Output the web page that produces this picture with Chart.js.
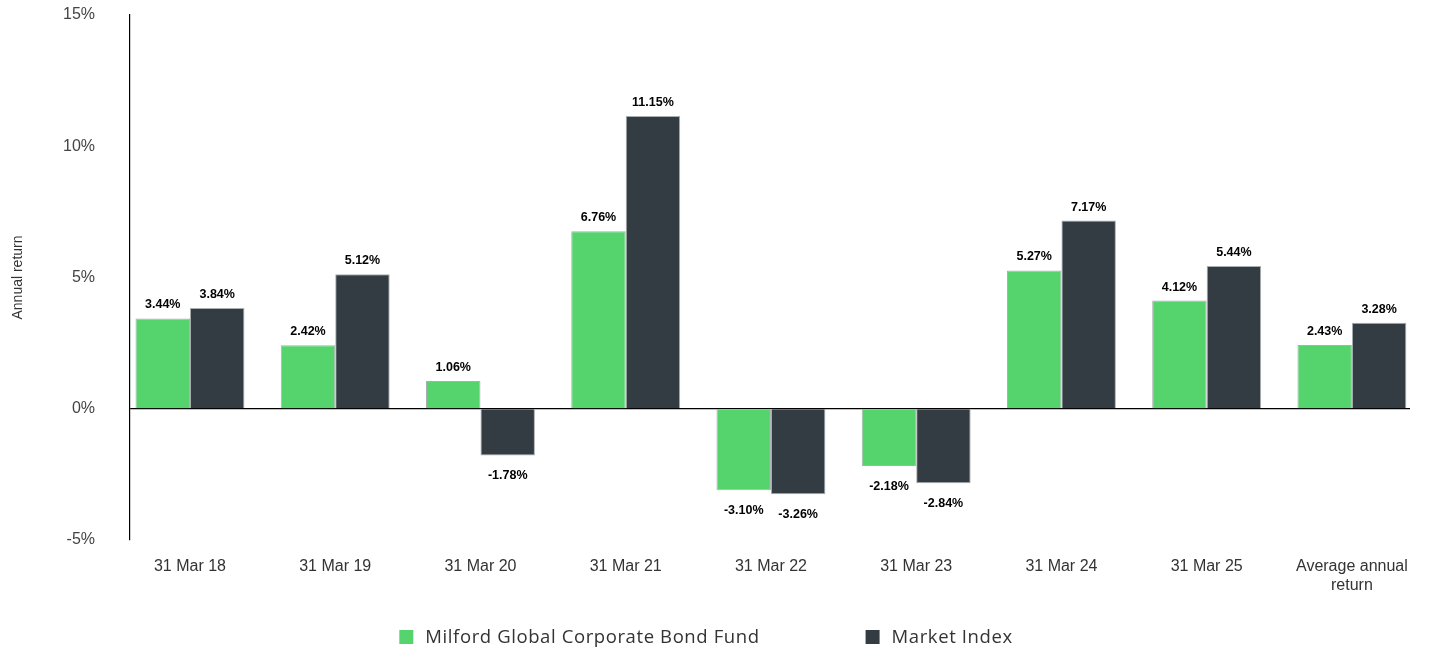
<!DOCTYPE html>
<html>
<head>
<meta charset="utf-8">
<script src="https://cdn.jsdelivr.net/npm/chart.js@4.4.1/dist/chart.umd.min.js"></script>
<style>
html,body{margin:0;padding:0;background:#fff;}
#wrap{width:1429px;height:648px;position:relative;}
</style>
</head>
<body>
<div id="wrap"><canvas id="c" width="1429" height="648"></canvas></div>
<script>
const categories = ['31 Mar 18','31 Mar 19','31 Mar 20','31 Mar 21','31 Mar 22','31 Mar 23','31 Mar 24','31 Mar 25',['Average annual','return']];
const fundValues = [3.44, 2.42, 1.06, 6.76, -3.10, -2.18, 5.27, 4.12, 2.43];
const indexValues = [3.84, 5.12, -1.78, 11.15, -3.26, -2.84, 7.17, 5.44, 3.28];
const seriesNames = ['Milford Global Corporate Bond Fund', 'Market Index'];
const yTicks = [-5, 0, 5, 10, 15];
const yTitle = 'Annual return';

const GREEN = '#55d46e';
const DARK = '#323c42';

const valueLabels = {
  id: 'valueLabels',
  afterDatasetsDraw(chart) {
    const ctx = chart.ctx;
    ctx.save();
    ctx.font = 'bold 12.5px "Liberation Sans", Arial, sans-serif';
    ctx.fillStyle = '#000';
    ctx.textAlign = 'center';
    ctx.textBaseline = 'alphabetic';
    chart.data.datasets.forEach((ds, di) => {
      const meta = chart.getDatasetMeta(di);
      meta.data.forEach((bar, i) => {
        const v = ds.data[i];
        const txt = v.toFixed(2) + '%';
        if (v >= 0) {
          ctx.fillText(txt, bar.x, bar.y - 10);
        } else {
          ctx.fillText(txt, bar.x, bar.y + 24);
        }
      });
    });
    ctx.restore();
  }
};

const customLegend = {
  id: 'customLegend',
  afterDraw(chart) {
    const ctx = chart.ctx;
    ctx.save();
    ctx.font = '18.5px "Open Sans", sans-serif';
    if ('letterSpacing' in ctx) ctx.letterSpacing = '0.6px';
    ctx.textBaseline = 'middle';
    const box = 14, gap = 12, spacing = 106;
    const items = chart.data.datasets.map(ds => ({label: ds.label, color: ds.backgroundColor, w: ctx.measureText(ds.label).width}));
    let total = 0;
    items.forEach((it, i) => { total += box + gap + it.w + (i < items.length - 1 ? spacing : 0); });
    let x = 706 - total / 2;
    const y = 637;
    items.forEach(it => {
      ctx.fillStyle = it.color;
      ctx.fillRect(x, y - box / 2, box, box);
      ctx.fillStyle = '#333';
      ctx.textAlign = 'left';
      ctx.fillText(it.label, x + box + gap, y + 1);
      x += box + gap + it.w + spacing;
    });
    ctx.restore();
  }
};

new Chart(document.getElementById('c'), {
  type: 'bar',
  data: {
    labels: categories,
    datasets: [
      {label: seriesNames[0], data: fundValues, backgroundColor: GREEN, borderColor: 'rgba(160,165,168,0.9)', borderWidth: 1, categoryPercentage: 0.75, barPercentage: 1.0},
      {label: seriesNames[1], data: indexValues, backgroundColor: DARK, borderColor: 'rgba(160,165,168,0.9)', borderWidth: 1, categoryPercentage: 0.75, barPercentage: 1.0}
    ]
  },
  options: {
    responsive: false,
    animation: false,
    devicePixelRatio: 1,
    layout: {padding: {top: 15, right: 19, bottom: 38, left: 0}},
    plugins: {
      legend: {display: false},
      tooltip: {enabled: false}
    },
    scales: {
      x: {
        grid: {display: false, drawTicks: false},
        border: {display: false},
        ticks: {
          font: {family: '"Liberation Sans", Arial, sans-serif', size: 16},
          color: '#333',
          padding: 17,
          maxRotation: 0,
          autoSkip: false
        },
        afterBuildTicks(scale) {
          scale._startValue = -0.413;
          scale._valueRange = 8.813;
        },
        afterFit(scale) { scale.height = 70; scale.paddingLeft = 0; scale.paddingRight = 0; }
      },
      y: {
        min: -5,
        max: 15,
        afterBuildTicks(scale) { scale.ticks = yTicks.map(v => ({value: v})); },
        grid: {
          drawTicks: false,
          color: ctx => (ctx.tick && ctx.tick.value === 0) ? '#000' : 'rgba(0,0,0,0)',
          lineWidth: 1.2
        },
        border: {display: true, color: '#000', width: 1.2},
        ticks: {
          font: {family: '"Liberation Sans", Arial, sans-serif', size: 16},
          color: '#444',
          padding: 35,
          callback: v => v + '%'
        },
        title: {
          display: true,
          text: yTitle,
          font: {family: '"Liberation Sans", Arial, sans-serif', size: 14},
          color: '#333',
          padding: {top: 10, bottom: 0}
        },
        afterFit(scale) { scale.width = 130; scale.paddingTop = 9; scale.paddingBottom = 9; }
      }
    }
  },
  plugins: [valueLabels, customLegend]
});
</script>
</body>
</html>
